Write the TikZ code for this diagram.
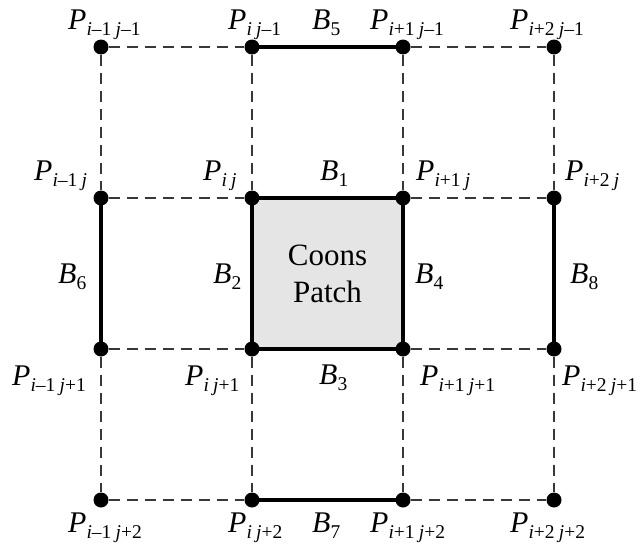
\documentclass[tikz,border=0pt]{standalone}
\usepackage{fontspec}
\setmainfont{Liberation Serif}
\usetikzlibrary{backgrounds}
\newcommand{\mysub}[1]{\raisebox{-6.5pt}{\fontsize{19.5}{19.5}\selectfont #1}}
\newcommand{\PP}[2]{\textit{P}\mysub{\textit{i}#1\hspace{0.22em}\textit{j}#2}}
\newcommand{\BB}[1]{\textit{B}\mysub{#1}}
\begin{document}
\begin{tikzpicture}[x=1pt,y=-1pt,
  dot/.style={circle,fill=black,inner sep=0pt,minimum size=15pt},
  gridline/.style={draw=black!78,line width=1.6pt,dash pattern=on 11pt off 7pt},
  bound/.style={draw=black,line width=3.2pt},
  lab/.style={inner sep=0pt,anchor=base west,font=\fontsize{30}{36}\selectfont}]
\useasboundingbox (0,0) rectangle (643,546);
% points
\foreach \c/\x in {0/101,1/252,2/403,3/554}{
  \foreach \r/\y in {0/47,1/198,2/349,3/500}{
    \node[dot] (p\c\r) at (\x,\y) {};
  }
}
% patch
\begin{scope}[on background layer]
  \fill[black!10] (p11.center) rectangle (p22.center);
\end{scope}
% dashed grid lines
\foreach \a/\b in {p00/p10,p20/p30,p01/p11,p21/p31,p02/p12,p22/p32,p03/p13,p23/p33,
                   p00/p01,p10/p11,p20/p21,p30/p31,p02/p03,p12/p13,p22/p23,p32/p33}{
  \draw[gridline] (\a) -- (\b);
}
% solid boundary curves
\draw[bound] (p10.center) -- (p20.center);
\draw[bound] (p11.center) -- (p21.center);
\draw[bound] (p12.center) -- (p22.center);
\draw[bound] (p13.center) -- (p23.center);
\draw[bound] (p01.center) -- (p02.center);
\draw[bound] (p11.center) -- (p12.center);
\draw[bound] (p21.center) -- (p22.center);
\draw[bound] (p31.center) -- (p32.center);
% centre text
\node[font=\fontsize{31}{37}\selectfont,align=center,inner sep=0pt] (coons) at (327.5,274) {Coons\\Patch};
% labels row 0
\node[lab] (l00) at (68,29) {\PP{–1}{–1}};
\node[lab] (l10) at (228,29) {\PP{}{–1}};
\node[lab] (b5)  at (312,29) {\BB{5}};
\node[lab] (l20) at (370,29) {\PP{+1}{–1}};
\node[lab] (l30) at (510,29) {\PP{+2}{–1}};
% row 1
\node[lab] (l01) at (34,180) {\PP{–1}{}};
\node[lab] (l11) at (203,180) {\PP{}{}};
\node[lab] (b1)  at (320,180) {\BB{1}};
\node[lab] (l21) at (416,180) {\PP{+1}{}};
\node[lab] (l31) at (565,180) {\PP{+2}{}};
% middle
\node[lab] (b6) at (58,283) {\BB{6}};
\node[lab] (b2) at (213,283) {\BB{2}};
\node[lab] (b4) at (415,283) {\BB{4}};
\node[lab] (b8) at (570,283) {\BB{8}};
% row 2
\node[lab] (l02) at (12,385) {\PP{–1}{+1}};
\node[lab] (l12) at (185,385) {\PP{}{+1}};
\node[lab] (b3)  at (319,384) {\BB{3}};
\node[lab] (l22) at (420,385) {\PP{+1}{+1}};
\node[lab] (l32) at (562,385) {\PP{+2}{+1}};
% row 3
\node[lab] (l03) at (68,532) {\PP{–1}{+2}};
\node[lab] (l13) at (228,532) {\PP{}{+2}};
\node[lab] (b7)  at (312,532) {\BB{7}};
\node[lab] (l23) at (370,532) {\PP{+1}{+2}};
\node[lab] (l33) at (510,532) {\PP{+2}{+2}};
\end{tikzpicture}
\end{document}
